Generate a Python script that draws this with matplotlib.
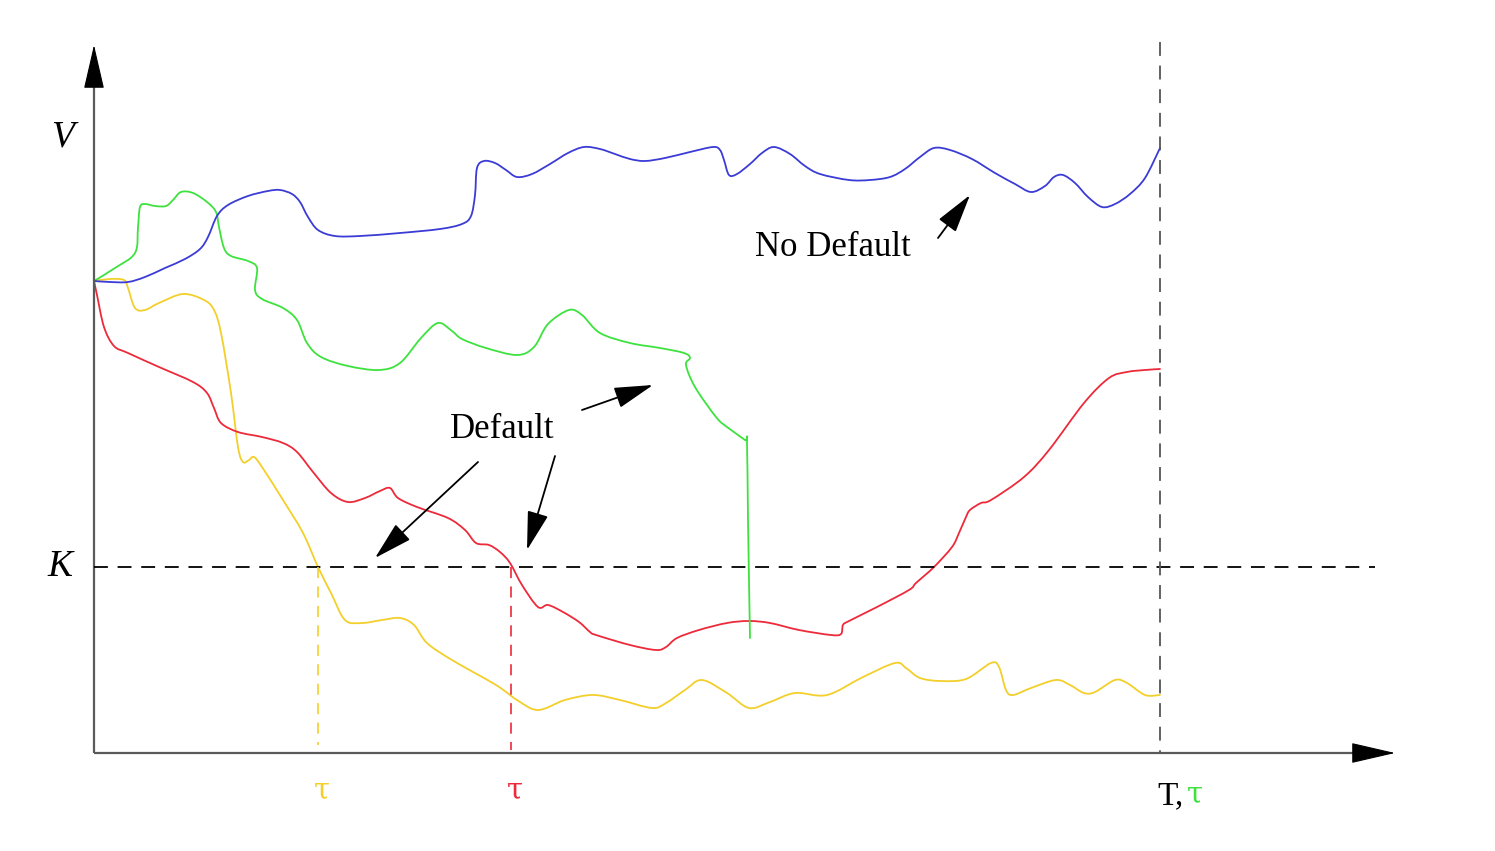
import matplotlib
matplotlib.use("Agg")
import matplotlib.pyplot as plt
from matplotlib.path import Path
from matplotlib.patches import PathPatch

plt.rcParams['lines.scale_dashes'] = False

# ---- schematic data (time axis x, asset value axis y; screen-like units) ----
blue_t = [94, 110, 128, 145, 165, 185, 200, 208, 217, 228, 248, 268, 280, 292, 300, 308, 318, 335,
          360, 400, 440, 462, 471, 475, 477, 484, 495, 506, 517, 532, 550, 568, 584, 600, 615, 630,
          645, 665, 690, 713, 720, 724, 729, 737, 750, 762, 774, 790, 805, 820, 849, 870, 890, 905,
          920, 934, 950, 972, 995, 1015, 1031, 1045, 1054, 1063, 1075, 1088, 1102, 1115, 1130, 1145, 1160]
blue_v = [281, 282, 282, 277, 268, 259, 249, 237, 216, 205, 196, 191, 190, 194, 202, 217, 230, 236,
          236, 233, 229, 224, 216, 195, 168, 161, 163, 170, 177, 174, 164, 153, 147, 149, 154, 159,
          161, 158, 152, 147, 150, 160, 175, 174, 164, 153, 147, 154, 166, 174, 180, 180, 177, 169,
          157, 148, 150, 159, 173, 184, 192, 186, 177, 175, 183, 197, 207, 204, 194, 178, 148]

green_t = [94, 115, 135, 138, 140, 145, 155, 166, 173, 181, 193, 207, 216, 219, 224, 231, 248, 257,
           255, 262, 283, 297, 307, 321, 348, 379, 400, 421, 438, 452, 462, 486, 517, 534, 548, 569,
           582, 600, 630, 660, 684, 690, 686, 695, 716, 727, 745, 747, 748, 750]
green_v = [281, 268, 253, 227, 207, 204, 206, 206, 200, 192, 193, 202, 212, 227, 248, 256, 261, 268,
           290, 299, 308, 320, 343, 357, 366, 370, 363, 338, 323, 331, 339, 348, 355, 347, 324, 310,
           315, 333, 343, 348, 353, 358, 365, 387, 417, 427, 440, 443, 520, 638]

red_t = [94, 97, 104, 114, 128, 159, 193, 207, 214, 221, 238, 262, 283, 297, 313, 331, 348, 365,
         380, 390, 398, 417, 448, 465, 476, 489, 500, 510, 522, 538, 548, 563, 579, 590, 596, 630,
         656, 666, 677, 699, 727, 749, 770, 799, 831, 841, 843, 849, 877, 909, 916, 934, 952, 959,
         966, 970, 981, 991, 1024, 1049, 1084, 1109, 1127, 1145, 1160]
red_v = [281, 295, 327, 346, 353, 367, 382, 393, 408, 423, 432, 437, 443, 452, 472, 493, 502, 498,
         491, 488, 498, 507, 518, 530, 543, 545, 552, 563, 585, 607, 605, 612, 622, 632, 635, 645,
         650, 647, 638, 630, 623, 621, 623, 630, 635, 634, 625, 621, 607, 590, 583, 567, 547, 533,
         517, 510, 503, 500, 477, 450, 403, 378, 372, 370, 369]

yellow_t = [94, 110, 124, 128, 135, 145, 159, 183, 204, 214, 221, 231, 238, 243, 249, 254, 262, 283,
            303, 318, 331, 345, 362, 382, 400, 414, 427, 452, 496, 517, 538, 565, 593, 620, 652, 666,
            685, 702, 727, 749, 770, 795, 827, 863, 895, 906, 920, 941, 966, 991, 999, 1006, 1013,
            1031, 1056, 1070, 1084, 1095, 1115, 1127, 1145, 1160]
yellow_v = [281, 279, 280, 288, 308, 310, 303, 294, 300, 310, 333, 393, 447, 462, 460, 457, 467, 500,
            533, 567, 593, 620, 623, 620, 618, 625, 643, 660, 685, 700, 710, 700, 695, 700, 708, 703,
            690, 680, 693, 708, 702, 693, 695, 677, 663, 668, 678, 681, 679, 663, 667, 690, 695,
            688, 680, 685, 693, 692, 680, 683, 695, 695]

# key levels
K_level = 567
T_time = 1160
tau_yellow = 318
tau_red = 511
axis_origin = (94, 753)

C_BLUE = '#3b3bd6'
C_GREEN = '#3ee23e'
C_RED = '#ec2a3a'
C_YELLOW = '#f3cf2b'
C_AXIS = '#5a5a5a'


def smooth_path(xs, ys):
    """Catmull-Rom rendering of a polyline through the given points as cubic Bezier curves."""
    pts = list(zip(xs, ys))
    n = len(pts)
    verts = [pts[0]]
    codes = [Path.MOVETO]
    for i in range(n - 1):
        p0 = pts[i - 1] if i > 0 else pts[i]
        p1 = pts[i]
        p2 = pts[i + 1]
        p3 = pts[i + 2] if i + 2 < n else pts[i + 1]
        c1 = (p1[0] + (p2[0] - p0[0]) / 6.0, p1[1] + (p2[1] - p0[1]) / 6.0)
        c2 = (p2[0] - (p3[0] - p1[0]) / 6.0, p2[1] - (p3[1] - p1[1]) / 6.0)
        verts += [c1, c2, p2]
        codes += [Path.CURVE4] * 3
    return Path(verts, codes)


fig = plt.figure(figsize=(14.95, 8.51), dpi=100)
ax = fig.add_axes([0, 0, 1, 1])
ax.set_xlim(0, 1495)
ax.set_ylim(851, 0)
ax.axis('off')

ox, oy = axis_origin
# axes: gray shafts, black arrow heads
ax.plot([ox, ox], [oy, 70], color=C_AXIS, lw=1.6, solid_capstyle='butt')
ax.plot([ox, 1370], [oy, oy], color=C_AXIS, lw=1.6, solid_capstyle='butt')
head_kw = dict(arrowstyle='-|>,head_length=1.3,head_width=0.3', fc='black', ec='black',
               lw=0.8, shrinkA=0, shrinkB=0, mutation_scale=22)
ax.annotate('', xy=(ox, 45), xytext=(ox, 80), arrowprops=head_kw)
ax.annotate('', xy=(1395, oy), xytext=(1360, oy), arrowprops=head_kw)

# K barrier line
ax.plot([ox, 1375], [K_level, K_level], color='black', lw=1.3, dashes=(10, 7))
# maturity line
ax.plot([T_time, T_time], [42, oy], color='#555555', lw=1.3, dashes=(10, 7))
# default-time lines
ax.plot([tau_yellow, tau_yellow], [K_level, 745], color=C_YELLOW, lw=1.2, dashes=(8, 6))
ax.plot([tau_red, tau_red], [K_level, 750], color=C_RED, lw=1.2, dashes=(8, 6))

for t, v, c in [(yellow_t, yellow_v, C_YELLOW), (red_t, red_v, C_RED),
                (green_t, green_v, C_GREEN), (blue_t, blue_v, C_BLUE)]:
    ax.add_patch(PathPatch(smooth_path(t, v), fill=False, edgecolor=c, lw=1.3,
                           joinstyle='round', capstyle='round'))

serif = ['Liberation Serif', 'DejaVu Serif']
tau_font = ['DejaVu Serif']
ax.text(62, 137, 'V', fontsize=27, style='italic', family=serif, ha='center', va='center')
ax.text(60, 567, 'K', fontsize=27, style='italic', family=serif, ha='center', va='center')
ax.text(322, 790, 'τ', fontsize=21, family=tau_font, color=C_YELLOW, ha='center', va='center')
ax.text(515, 790, 'τ', fontsize=21, family=tau_font, color=C_RED, ha='center', va='center')
ax.text(1157, 796, 'T,', fontsize=24, family=serif, color='black', ha='left', va='center')
ax.text(1195, 794, 'τ', fontsize=21, family=tau_font, color=C_GREEN, ha='center', va='center')
ax.text(502, 430, 'Default', fontsize=25, family=serif, ha='center', va='center')
ax.text(833, 248, 'No Default', fontsize=25, family=serif, ha='center', va='center')

arrow_kw = dict(arrowstyle='-|>,head_length=1.1,head_width=0.3', color='black', lw=1.3,
                shrinkA=0, shrinkB=0, mutation_scale=22)
for start, end in [((582, 410), (653, 385)), ((478, 462), (375, 558)),
                   ((555, 456), (527, 550)), ((938, 238), (970, 195))]:
    ax.annotate('', xy=end, xytext=start, arrowprops=arrow_kw)

fig.savefig('out.png', dpi=100, facecolor='white')
